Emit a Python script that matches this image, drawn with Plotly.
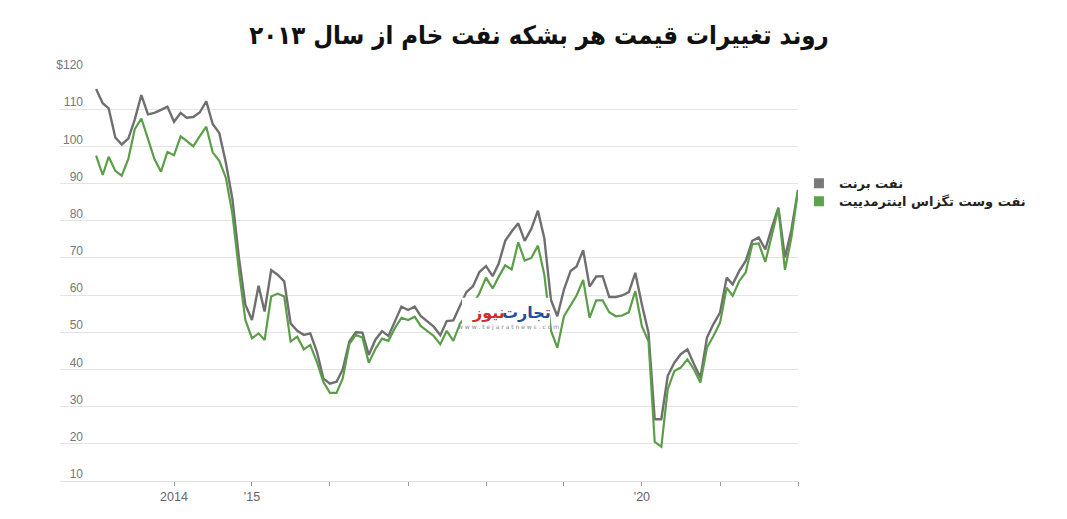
import pandas as pd
import plotly.graph_objects as go

# Monthly (month-end) prices, Jan 2013 .. Jan 2022
dates = pd.date_range("2013-01-01", periods=109, freq="MS")

brent = [
    115.4, 111.6, 110.2, 102.4, 100.5, 102.1, 107.2, 113.8, 108.6, 109.0, 109.8, 110.7,
    106.6, 109.0, 107.7, 107.9, 109.1, 112.1, 106.0, 103.6, 95.5, 86.0, 70.0, 57.4,
    53.3, 62.5, 55.6, 66.7, 65.5, 63.7, 52.4, 50.4, 49.3, 49.7, 44.8, 37.6,
    36.2, 36.7, 40.0, 47.5, 50.0, 49.9, 43.9, 48.0, 50.3, 49.0, 53.0, 56.9,
    56.0, 56.9, 54.4, 52.8, 51.5, 49.2, 53.0, 53.2, 57.1, 60.8, 62.4, 66.2,
    67.8, 65.1, 68.4, 74.6, 77.1, 79.3, 74.6, 77.8, 82.7, 75.3, 58.7, 54.3,
    61.5, 66.5, 67.7, 72.1, 62.3, 65.0, 65.1, 59.5, 59.5, 59.9, 60.8, 66.0,
    57.5, 49.8, 26.6, 26.6, 38.3, 41.8, 44.1, 45.4, 41.4, 37.8, 48.6, 52.2,
    55.3, 64.7, 62.9, 66.5, 69.2, 74.6, 75.5, 72.3, 78.2, 83.5, 70.1, 77.5,
    88.3,
]

wti = [
    97.5, 92.3, 97.2, 93.4, 92.1, 96.6, 104.6, 107.5, 102.0, 96.6, 93.2, 98.5,
    97.6, 102.7, 101.5, 100.0, 102.7, 105.3, 98.4, 96.1, 91.5, 82.0, 66.5, 53.3,
    48.4, 49.7, 47.9, 59.6, 60.4, 59.6, 47.5, 48.8, 45.4, 46.6, 42.0, 36.7,
    33.7, 33.7, 37.6, 46.8, 49.3, 48.6, 41.8, 45.5, 48.3, 47.7, 51.2, 53.9,
    53.3, 54.2, 51.7, 50.4, 49.0, 46.8, 50.4, 47.7, 52.3, 54.5, 57.5, 60.5,
    64.7, 61.8, 64.9, 68.0, 66.9, 74.2, 69.3, 70.0, 73.3, 65.5, 50.5, 45.8,
    54.3, 57.2, 59.9, 64.1, 53.9, 58.6, 58.6, 55.4, 54.3, 54.5, 55.4, 61.1,
    51.6, 47.6, 20.5, 19.2, 34.7, 39.6, 40.5, 42.7, 40.0, 36.5, 45.9, 49.0,
    52.6, 62.0, 59.8, 63.8, 66.1, 73.7, 73.9, 68.9, 75.9, 83.3, 66.8, 75.5,
    88.0,
]

series_names = ["نفت برنت", "نفت وست تگزاس اینترمدییت"]
title_text = "روند تغییرات قیمت هر بشکه نفت خام از سال ۲۰۱۳"

x_tick_vals = [f"{y}-01-01" for y in range(2014, 2023)]
x_tick_text = ["2014", "'15", "", "", "", "", "'20", "", ""]
y_tick_vals = [10, 20, 30, 40, 50, 60, 70, 80, 90, 100, 110, 120]
y_tick_text = ["10", "20", "30", "40", "50", "60", "70", "80", "90", "100", "110", "$120"]

GRAY = "#6f6f6f"
GREEN = "#5a9e48"
TICKFONT = "Liberation Sans, Arial, sans-serif"

fig = go.Figure()
fig.add_trace(go.Scatter(x=dates, y=brent, mode="lines", line=dict(color=GRAY, width=2.4),
                         showlegend=False, hoverinfo="skip"))
fig.add_trace(go.Scatter(x=dates, y=wti, mode="lines", line=dict(color=GREEN, width=2.2),
                         showlegend=False, hoverinfo="skip"))
# legend entries (square swatches), each in its own legend box for tight spacing
fig.add_trace(go.Scatter(x=[None], y=[None], mode="markers", name=series_names[0], legend="legend",
                         marker=dict(symbol="square", size=10, color="#7a7a7a")))
fig.add_trace(go.Scatter(x=[None], y=[None], mode="markers", name=series_names[1], legend="legend2",
                         marker=dict(symbol="square", size=10, color="#5aa34a")))

# watermark box + logo
fig.add_shape(type="rect", xref="paper", yref="paper", x0=0.5447, x1=0.6640, y0=0.345, y1=0.448,
              fillcolor="white", line=dict(width=0), layer="above")
fig.add_annotation(xref="paper", yref="paper", x=0.632, y=0.413, xanchor="center", yanchor="middle",
                   text="<b>تجارت</b>", showarrow=False,
                   font=dict(family="DejaVu Sans", size=16, color="#1f4f9a"))
fig.add_annotation(xref="paper", yref="paper", x=0.580, y=0.413, xanchor="center", yanchor="middle",
                   text="<b>نیوز</b>", showarrow=False,
                   font=dict(family="DejaVu Sans", size=16, color="#d42a2a"))
fig.add_annotation(xref="paper", yref="paper", x=0.608, y=0.3765, xanchor="center", yanchor="middle",
                   text="w w w . t e j a r a t n e w s . c o m", showarrow=False,
                   font=dict(family="DejaVu Sans", size=6, color="#888"))

legend_font = dict(family="DejaVu Sans", size=13, color="#222", weight="bold")
fig.update_layout(
    width=1067, height=519,
    margin=dict(l=52, r=277, t=64, b=46),
    paper_bgcolor="white", plot_bgcolor="white",
    title=dict(text="<b>" + title_text + "</b>", x=531 / 1067, xref="container", xanchor="center",
               y=0.948, yref="container", yanchor="middle",
               font=dict(family="DejaVu Sans Condensed, DejaVu Sans", size=25.5, color="#111")),
    legend=dict(x=1.0013, xanchor="left", y=0.7277, yanchor="middle",
                font=legend_font, itemwidth=30, bgcolor="rgba(0,0,0,0)"),
    legend2=dict(x=1.0013, xanchor="left", y=0.6837, yanchor="middle",
                 font=legend_font, itemwidth=30, bgcolor="rgba(0,0,0,0)"),
    xaxis=dict(type="date", range=["2012-07-16", "2022-01-01"], automargin=False,
               tickvals=x_tick_vals, ticktext=x_tick_text,
               ticks="outside", ticklen=4, tickcolor="#999", tickwidth=1,
               showgrid=False, showline=True, linecolor="#e2e2e2", linewidth=1,
               zeroline=False,
               tickfont=dict(family=TICKFONT, size=12.5, color="#666")),
    yaxis=dict(range=[10, 120], tickvals=y_tick_vals, ticktext=y_tick_text, automargin=False,
               showgrid=True, gridcolor="#e4e4e4", gridwidth=1, zeroline=False,
               showline=False, ticks="",
               ticklabelposition="outside", ticklabelstandoff=-24, ticklabelshift=-7,
               tickfont=dict(family=TICKFONT, size=12, color="#777")),
)

fig.write_html("out.html")
